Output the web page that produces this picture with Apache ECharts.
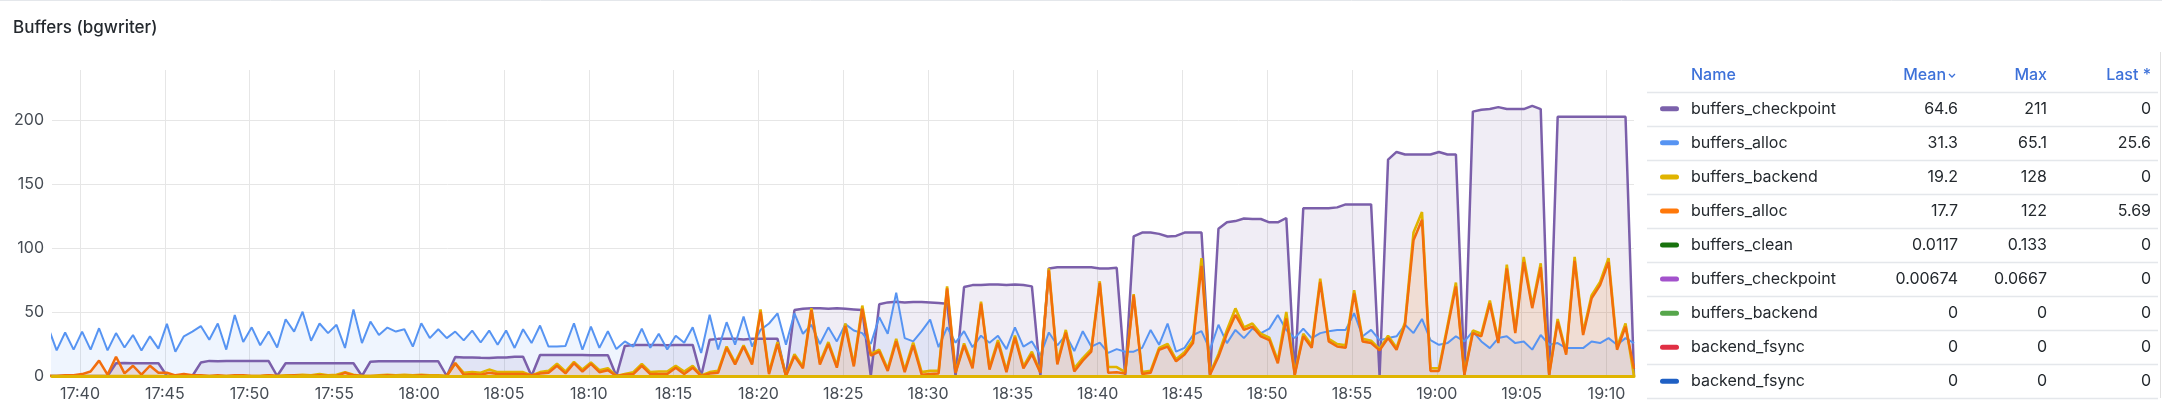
<!DOCTYPE html>
<html>
<head>
<meta charset="utf-8">
<script src="https://cdn.jsdelivr.net/npm/echarts@6/dist/echarts.min.js"></script>
<style>
html,body{margin:0;padding:0;background:#fff;}
#chart{width:2162px;height:412px;}
</style>
</head>
<body>
<div id="chart"></div>
<script>
// ---- data (30 s samples, first sample just left of the visible range) ----
const startTime = Date.UTC(2024, 4, 20, 17, 38, 7, 500);
const stepMs = 30000;
const axisMin = Date.UTC(2024, 4, 20, 17, 38, 21);
const axisMax = Date.UTC(2024, 4, 20, 19, 11, 37, 500);
const xTickLabels = ['17:40','17:45','17:50','17:55','18:00','18:05','18:10','18:15','18:20','18:25','18:30','18:35','18:40','18:45','18:50','18:55','19:00','19:05','19:10'];
const yTicks = [0, 50, 100, 150, 200];

const checkpointValues = [
0,0,0,0,0,0,0,0,10,10.2,
10,10,10,10,0,0,0,0,10.5,11.8,
11.5,11.7,11.7,11.7,11.7,11.7,11.7,0,10,10,
10,10,10,10,10,10,10,0,11.2,11.5,
11.5,11.5,11.5,11.5,11.5,11.5,11.5,0,14.9,14.5,
14.5,14.2,14,14.5,14.5,15,15,0,16.4,16.4,
16.4,16.4,16.4,16.4,16.3,16.3,16.3,0,23.5,24.3,
24.3,24.3,24.3,24,24.3,24.3,24.3,0,28.3,29,
29,29,28.5,29,29,29,29,0,51.5,52.5,
53,53,52.5,53,52.5,52,51.5,0,56,57.5,
58,57.5,57.8,57.8,57.5,57,56.5,0,69.5,71,
71,71.5,71.5,71,71.5,71,70,0,84,85,
85,85,85,85,84,84,84.5,0,109,112,
112,111,109,109.4,112,112,112,0,115,120,
121,123,122.6,122.6,120,120,123.4,0,131,131,
131,131,131.7,134,134,134,134,0,169,175,
173,173,173,173,175,173,173,0,206.5,208,
208.5,210,208.5,208.5,208.5,211,208.5,0,202.5,202.5,
202.5,202.5,202.5,202.5,202.5,202.5,202.5,0
];
const allocValues = [
38,20,34,20.6,34.7,20.6,37.3,20,33.5,22.3,
32,20,31,21.4,40.7,19,31,34.7,39,28.3,
41,20.6,47.7,26.5,38,24,34.7,22.3,44.3,34.7,
50.2,27.5,41,33.5,40,21.9,52,25.7,42.5,32,
37.8,34.7,36.5,23,41.2,29.6,36.5,29.6,34.7,27.8,
35.5,26.2,35.5,24.4,35.5,21.9,36.5,25.7,39.4,23,
23,23.5,41.2,20.5,38.6,22,35,21,27,23,
37,22,33,20.7,31.5,26,38,18,47.8,20.7,
42,24.5,46.5,23,36,41,49,24.5,49,33,
40,25,38,27,40.5,35.5,33.5,25,46,33,
65.1,29.6,27,35,44,22.5,38,26,35,22.5,
31.5,26,31.5,21,38,23,27,16,34,24,
32,19.5,35,23,26,18,21,19,19,22,
36,24.4,41,19,22,32,35,20.5,40,25.7,
36,29.6,37,33.5,37,47.7,36,29.6,37,29.6,
33.5,35,36,36,49,31,36,28,29.6,31,
40,33.5,44.6,28,24.4,25.7,31,27,34.8,27,
21.8,29.6,31,25.7,27,20.6,32,24.4,25.7,21.8,
21.8,21.8,27,25.7,29.6,24.4,29.6,25.6
];
const backendValues = [
0,0,0,0,0,0,0,0,0,0,
0,0,0,0,0,0,0,0,0,0,
0,0,0,0,0,0,0.5,0,0.5,0.5,
1,0.5,1.5,0.5,1,3,1,0,0,0.5,
1,0.5,1,0.5,1,0.5,0.5,0,10,2.5,
3,2.5,5,3,3,3,3,0.5,3,4,
9.5,3.5,11,5,10.5,4.5,6,0,1.5,3,
9.5,3,3.5,3.5,8,3.5,8,0.5,3,4,
23,10.5,24,10.5,52,3,26.5,0.5,17,7.5,
53,10.5,26.5,8,41,9,55,17,20.5,5.5,
29,4.5,26,3,4,4,70,3,25.5,8,
58,6.5,28,4.5,31.5,7.5,19,3,84,10.5,
36,6,14,21,74,7,7,3,64,3,
4,22,25,13,18.5,28,92,2,17,36,
52.8,38,41,33,30,12,50,2,33,24,
76,29,25,24,67,29,27.5,21,31.5,22,
42,112,128,6,6,39,73,2,35.5,33,
59,27.5,87,35.5,93,55,88,2,44.5,18.5,
93,34,63,73.5,92,22.5,41,0
];
const alloc2Values = [
0,0,0.5,0.5,1.5,3.5,12,1,15,2,
8,1,8,2.5,2.5,0.5,1.5,0.5,0.5,0,
0.5,0,0.5,0.5,0,0,0.5,0,0,0.5,
0,0,0.5,0,0,2.5,0.5,0,0,0,
0.5,0,0,0,0.5,0,0,0,10,1,
1.5,1,2.5,1.5,1.5,1.5,1.5,0.5,2,2.5,
8,2,10,3.5,9.5,3,4.5,0,1,1.5,
8,1.5,1.5,1.5,6.5,1.5,6.5,0,2,2.5,
22,9,23,9,50,1.5,25,0,15.5,6,
51.5,9,25,6.5,39,7.5,52.5,16,19,4,
27,3,24,1,1.5,2,68.5,2.5,24,6,
56.5,5,26,3,30,6,17,2.5,82.5,9,
34,3.5,12,19,72.5,2.5,3,2,63,1.5,
2.5,20.5,23,11.5,16.7,25.7,86,1,15,33,
47.7,36,38.6,31,28,10,45,1,31,22,
73.5,27,23,22,64.5,27,25.7,20,29.6,20.5,
40,106,122,4,4,37,70,1,33.5,31,
56.7,25.7,84,33.5,89,53,85,1,42.5,16.6,
90,32,60.6,71,89,20.5,38.6,5.69
];
const cleanValues = [
0,0,0,0,0,0,0,0,0,0,
0,0,0,0,0,0,0,0,0,0,
0,0,0,0,0,0,0,0,0,0,
0,0,0,0,0,0,0,0,0,0,
0,0,0,0,0,0,0,0,0,0,
0,0,0,0,0,0,0,0,0,0,
0,0,0,0,0,0,0,0,0,0,
0,0,0,0,0,0,0,0,0,0,
0,0,0,0,0,0,0,0,0,0,
0,0,0,0,0,0,0,0,0,0,
0,0.133,0,0,0,0,0,0,0,0.133,
0,0,0,0,0,0,0,0,0.133,0,
0,0.133,0,0,0,0,0,0,0.133,0,
0,0.0667,0,0,0,0,0.133,0,0,0,
0,0.133,0,0,0,0,0,0,0.133,0,
0,0.133,0,0,0,0,0,0,0.133,0,
0,0.133,0,0,0.0667,0,0,0,0.133,0,
0,0,0.133,0,0.133,0,0,0,0.133,0,
0,0,0.133,0,0,0,0,0
];
const checkpoint2Values = [
0,0,0,0,0,0,0,0,0,0,
0,0,0,0,0,0,0,0,0,0,
0,0,0,0,0,0,0,0,0,0,
0,0,0,0,0,0,0,0,0,0,
0,0,0,0,0,0,0,0,0,0,
0,0,0,0,0,0,0,0,0,0,
0,0,0,0,0,0,0,0,0,0,
0,0,0,0,0,0,0,0,0,0,
0,0,0,0,0,0,0,0,0.0667,0,
0,0,0,0,0,0,0,0,0.0667,0,
0,0,0,0,0,0,0,0,0.0667,0,
0,0,0,0,0,0,0,0,0.0667,0,
0,0,0,0,0,0,0,0,0.0667,0,
0,0,0,0,0,0,0,0,0.0667,0,
0,0,0,0,0,0,0,0,0.0667,0,
0,0,0,0,0,0,0,0,0.0667,0,
0,0,0,0,0,0,0,0,0.0667,0,
0,0,0,0,0,0,0,0,0.0667,0,
0,0,0,0,0,0,0,0
];
const backend2Values = [
0,0,0,0,0,0,0,0,0,0,0,0,0,0,0,0,0,0,0,0,0,0,0,0,0,0,0,0,0,0,0,0,0,0,0,0,0,0,0,0,
0,0,0,0,0,0,0,0,0,0,0,0,0,0,0,0,0,0,0,0,0,0,0,0,0,0,0,0,0,0,0,0,0,0,0,0,0,0,0,0,
0,0,0,0,0,0,0,0,0,0,0,0,0,0,0,0,0,0,0,0,0,0,0,0,0,0,0,0,0,0,0,0,0,0,0,0,0,0,0,0,
0,0,0,0,0,0,0,0,0,0,0,0,0,0,0,0,0,0,0,0,0,0,0,0,0,0,0,0,0,0,0,0,0,0,0,0,0,0,0,0,
0,0,0,0,0,0,0,0,0,0,0,0,0,0,0,0,0,0,0,0,0,0,0,0,0,0,0,0
];
const fsyncValues = [
0,0,0,0,0,0,0,0,0,0,0,0,0,0,0,0,0,0,0,0,0,0,0,0,0,0,0,0,0,0,0,0,0,0,0,0,0,0,0,0,
0,0,0,0,0,0,0,0,0,0,0,0,0,0,0,0,0,0,0,0,0,0,0,0,0,0,0,0,0,0,0,0,0,0,0,0,0,0,0,0,
0,0,0,0,0,0,0,0,0,0,0,0,0,0,0,0,0,0,0,0,0,0,0,0,0,0,0,0,0,0,0,0,0,0,0,0,0,0,0,0,
0,0,0,0,0,0,0,0,0,0,0,0,0,0,0,0,0,0,0,0,0,0,0,0,0,0,0,0,0,0,0,0,0,0,0,0,0,0,0,0,
0,0,0,0,0,0,0,0,0,0,0,0,0,0,0,0,0,0,0,0,0,0,0,0,0,0,0,0
];
const fsync2Values = [
0,0,0,0,0,0,0,0,0,0,0,0,0,0,0,0,0,0,0,0,0,0,0,0,0,0,0,0,0,0,0,0,0,0,0,0,0,0,0,0,
0,0,0,0,0,0,0,0,0,0,0,0,0,0,0,0,0,0,0,0,0,0,0,0,0,0,0,0,0,0,0,0,0,0,0,0,0,0,0,0,
0,0,0,0,0,0,0,0,0,0,0,0,0,0,0,0,0,0,0,0,0,0,0,0,0,0,0,0,0,0,0,0,0,0,0,0,0,0,0,0,
0,0,0,0,0,0,0,0,0,0,0,0,0,0,0,0,0,0,0,0,0,0,0,0,0,0,0,0,0,0,0,0,0,0,0,0,0,0,0,0,
0,0,0,0,0,0,0,0,0,0,0,0,0,0,0,0,0,0,0,0,0,0,0,0,0,0,0,0
];

// legend table
const legendNames = ['buffers_checkpoint','buffers_alloc','buffers_backend','buffers_alloc','buffers_clean','buffers_checkpoint','buffers_backend','backend_fsync','backend_fsync'];
const legendColors = ['#7B61AB','#5794F2','#E0B400','#FF780A','#19730E','#A352CC','#56A64B','#E02F44','#1F60C4'];
const legendMean = ['64.6','31.3','19.2','17.7','0.0117','0.00674','0','0','0'];
const legendMax = ['211','65.1','128','122','0.133','0.0667','0','0','0'];
const legendLast = ['0','25.6','0','5.69','0','0','0','0','0'];
const legendHeaders = ['Name','Mean','Max','Last *'];

// ---- build ----
const times = checkpointValues.map((_, i) => startTime + i * stepMs);
const pairs = arr => arr.map((v, i) => [times[i], v]);
const tickTimes = xTickLabels.map(s => {
  const [h, m] = s.split(':').map(Number);
  return Date.UTC(2024, 4, 20, h, m, 0);
});

const seriesValues = [checkpointValues, allocValues, backendValues, alloc2Values, cleanValues, checkpoint2Values, backend2Values, fsyncValues, fsync2Values];
const lineColors = ['#7B5FAA','#5794F2','#E0B400','#F26D0C','#19730E','#A352CC','#56A64B','#E02F44','#1F60C4'];
const fills = ['rgba(123,97,171,0.16)','rgba(87,148,242,0.14)','rgba(224,180,0,0.04)','rgba(255,110,10,0.16)',null,null,null,null,null];
const widths = [2.5, 2, 2.6, 2.5, 1.5, 1.5, 1.5, 1.5, 1.5];

const series = seriesValues.map((vals, idx) => {
  const s = {
    name: legendNames[idx] + '_' + idx,
    type: 'line',
    data: pairs(vals),
    symbol: 'none',
    showSymbol: false,
    clip: true,
    z: 2,
    lineStyle: { width: widths[idx], color: lineColors[idx] },
    itemStyle: { color: lineColors[idx] },
    emphasis: { disabled: true },
    animation: false
  };
  if (fills[idx]) s.areaStyle = { color: fills[idx], origin: 'start' };
  return s;
});

// legend table graphics
const FONT = 'Inter, "Noto Sans", sans-serif';
const graphics = [];
const headerY = 75, firstLineY = 91.7, rowH = 34.07;
const colName = 1691, colMean = 1958, colMax = 2047, colLast = 2151;
const headerColor = '#3D71D9', textColor = '#24292e';
graphics.push({type:'text', x: colName, y: headerY, style:{text: legendHeaders[0], fill: headerColor, font: '500 16px ' + FONT, verticalAlign:'middle'}});
graphics.push({type:'text', x: colMean - 12, y: headerY, style:{text: legendHeaders[1], fill: headerColor, font: '500 16px ' + FONT, align:'right', verticalAlign:'middle'}});
graphics.push({type:'polyline', shape:{points:[[colMean-9,headerY-1],[colMean-6,headerY+2],[colMean-3,headerY-1]]}, style:{stroke: headerColor, lineWidth:1.3, fill:null}});
graphics.push({type:'text', x: colMax, y: headerY, style:{text: legendHeaders[2], fill: headerColor, font: '500 16px ' + FONT, align:'right', verticalAlign:'middle'}});
graphics.push({type:'text', x: colLast, y: headerY, style:{text: legendHeaders[3], fill: headerColor, font: '500 16px ' + FONT, align:'right', verticalAlign:'middle'}});
for (let r = 0; r <= legendNames.length; r++) {
  const ly = Math.round(firstLineY + r * rowH) + 0.5;
  graphics.push({type:'line', shape:{x1:1647, y1:ly, x2:2158, y2:ly}, style:{stroke:'#e4e7eb', lineWidth:1.5}});
}
legendNames.forEach((nm, r) => {
  const cy = firstLineY + (r + 0.5) * rowH;
  graphics.push({type:'rect', shape:{x:1660, y:cy-2.5, width:19, height:5, r:2.5}, style:{fill: legendColors[r]}});
  graphics.push({type:'text', x: colName, y: cy, style:{text: nm, fill: textColor, font: '16px ' + FONT, verticalAlign:'middle'}});
  graphics.push({type:'text', x: colMean, y: cy, style:{text: legendMean[r], fill: textColor, font: '16px ' + FONT, align:'right', verticalAlign:'middle'}});
  graphics.push({type:'text', x: colMax, y: cy, style:{text: legendMax[r], fill: textColor, font: '16px ' + FONT, align:'right', verticalAlign:'middle'}});
  graphics.push({type:'text', x: colLast, y: cy, style:{text: legendLast[r], fill: textColor, font: '16px ' + FONT, align:'right', verticalAlign:'middle'}});
});
graphics.push({type:'line', shape:{x1:2160.5, y1:52, x2:2160.5, y2:398}, style:{stroke:'#e0e0e0', lineWidth:1}});
graphics.push({type:'line', shape:{x1:0, y1:0.5, x2:2162, y2:0.5}, style:{stroke:'#e4e7eb', lineWidth:1}});

const chart = echarts.init(document.getElementById('chart'), null, {renderer:'canvas'});
chart.setOption({
  useUTC: true,
  animation: false,
  backgroundColor: '#ffffff',
  textStyle: { fontFamily: FONT },
  title: {
    text: 'Buffers (bgwriter)', left: 8, top: 14,
    textStyle: { fontSize: 17, fontWeight: 500, color: '#24292e', fontFamily: FONT }
  },
  grid: { left: 52, right: 528, top: 70, bottom: 36, containLabel: false },
  xAxis: [{
    type: 'time', min: axisMin, max: axisMax,
    axisLine: { show: false },
    axisTick: { show: false, customValues: tickTimes },
    axisLabel: { customValues: tickTimes, formatter: '{HH}:{mm}', fontSize: 16, color: '#464c54', margin: 10, fontFamily: FONT },
    splitLine: { show: true, lineStyle: { color: '#e6e6e6', width: 1 } }
  }, {
    type: 'time', min: axisMin, max: axisMax, position: 'bottom', z: 10,
    axisLine: { show: true, onZero: false, lineStyle: { color: '#E0B400', width: 3 } },
    axisTick: { show: false }, axisLabel: { show: false }, splitLine: { show: false }
  }],
  yAxis: {
    type: 'value', min: 0, max: 239,
    axisLine: { show: false },
    axisTick: { show: false, customValues: yTicks },
    axisLabel: { customValues: yTicks, fontSize: 16, color: '#464c54', margin: 8, fontFamily: FONT },
    splitLine: { show: true, lineStyle: { color: '#e6e6e6', width: 1 } }
  },
  series: series,
  graphic: graphics
});
</script>
</body>
</html>
